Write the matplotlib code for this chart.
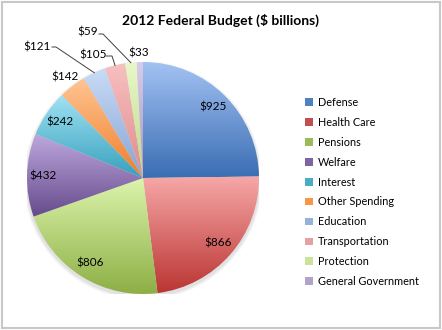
import numpy as np
import matplotlib.pyplot as plt
from matplotlib.colors import LinearSegmentedColormap
from matplotlib.patches import Patch, Rectangle, Circle

# ---- data ----
categories = ["Defense", "Health Care", "Pensions", "Welfare", "Interest",
              "Other Spending", "Education", "Transportation", "Protection",
              "General Government"]
values = [925, 866, 806, 432, 242, 142, 121, 105, 59, 33]
labels = ["$" + str(v) for v in values]

base_colors = ["#4F81BD", "#C0504D", "#9BBB59", "#8064A2", "#4BACC6",
               "#F79646", "#95B3D7", "#E6A0A0", "#C9E39A", "#B3A2C7"]
top_colors = ["#A3C2F3", "#F7A8A8", "#DCF4AC", "#BDA8DD", "#A0E2F4",
              "#FFC593", "#C9DBF6", "#F8C0C0", "#E9F8CB", "#D8CCEA"]
bottom_colors = ["#3A6DB3", "#BA3532", "#8DAF45", "#664A8C", "#36A0BC",
                 "#EE7E2A", "#86A4D4", "#DD8C8C", "#BCD886", "#A493C2"]

plt.rcParams["font.family"] = ["Lato", "DejaVu Sans"]

W, H = 442, 330
fig = plt.figure(figsize=(W / 100, H / 100), dpi=100)

# chart border
fig.patches.append(Rectangle((2 / W, 2 / H), 1 - 4 / W, 1 - 4 / H,
                             transform=fig.transFigure, fill=False,
                             edgecolor="#C8C8C8", linewidth=1.5))

fig.text(221 / W, 1 - 20 / H, "2012 Federal Budget ($ billions)",
         ha="center", va="center", fontsize=10, fontweight="bold")

# pie axes: center (143,178) px, radius 116 px
cx, cy, r = 143, 178, 116
ax = fig.add_axes([(cx - r) / W, (H - cy - r) / H, 2 * r / W, 2 * r / H])
ax.set_xlim(-1, 1)
ax.set_ylim(-1, 1)
ax.set_aspect("equal")
ax.axis("off")

# soft shadow
for k, a in zip([0.03, 0.02, 0.01], [0.06, 0.08, 0.10]):
    ax.add_patch(Circle((0.0, -0.02), 1 + k, color="gray", alpha=a,
                        lw=0, zorder=0))

wedges, _ = ax.pie(values, startangle=90, counterclock=False, radius=1,
                   wedgeprops=dict(linewidth=0))

# vertical gradient inside each wedge
grad = np.linspace(0, 1, 256).reshape(-1, 1)
for w, c0, c1 in zip(wedges, top_colors, bottom_colors):
    w.set_facecolor("none")
    bb = w.get_path().get_extents(w.get_patch_transform())
    cmap = LinearSegmentedColormap.from_list("g", [c0, c1])
    im = ax.imshow(grad, cmap=cmap, aspect="auto", origin="upper",
                   extent=[bb.x0, bb.x1, bb.y0, bb.y1], zorder=1)
    im.set_clip_path(w)
ax.set_xlim(-1, 1)
ax.set_ylim(-1, 1)

# labels
total = sum(values)
cum = np.cumsum([0] + values[:-1])
mids = [90 - 360 * (c + v / 2) / total for c, v in zip(cum, values)]

for i in range(5):
    th = np.radians(mids[i])
    ax.text(0.86 * np.cos(th), 0.86 * np.sin(th), labels[i],
            ha="center", va="center", fontsize=8.5, zorder=3)

th = np.radians(mids[5])
ax.text(1.1 * np.cos(th), 1.1 * np.sin(th), labels[5],
        ha="center", va="center", fontsize=8.5, zorder=3)

# outside labels with leaders (pixel positions of text)
outside = {6: (37, 47), 7: (93, 55), 8: (88, 32), 9: (139, 53)}
for i, (px, py) in outside.items():
    x, y = (px - cx) / r, (cy - py) / r
    ax.text(x, y, labels[i], ha="center", va="center", fontsize=8.5,
            zorder=3, clip_on=False)

def edge(i):
    th = np.radians(mids[i])
    return np.cos(th), np.sin(th)

def pt(px, py):
    return (px - cx) / r, (cy - py) / r

lk = dict(color="#404040", lw=0.7, clip_on=False, zorder=3)
ex, ey = edge(6)
ax.plot([pt(52, 47)[0], pt(56, 47)[0], ex], [pt(52, 47)[1], pt(56, 47)[1], ey], **lk)
ex, ey = edge(7)
ax.plot([pt(106, 56)[0], pt(112, 56)[0], ex], [pt(106, 56)[1], pt(112, 56)[1], ey], **lk)
ex, ey = edge(8)
ax.plot([pt(99, 34)[0], pt(103, 34)[0], ex], [pt(99, 34)[1], pt(103, 34)[1], ey], **lk)

# legend
handles = [Patch(facecolor=c, edgecolor="none") for c in base_colors]
fig.legend(handles, categories, loc="upper left",
           bbox_to_anchor=(305 / W, 1 - 97 / H), frameon=False,
           fontsize=7.8, handlelength=0.7, handleheight=0.7,
           handletextpad=0.5, labelspacing=0.82, borderpad=0,
           borderaxespad=0)

fig.savefig("out.png", dpi=100)
